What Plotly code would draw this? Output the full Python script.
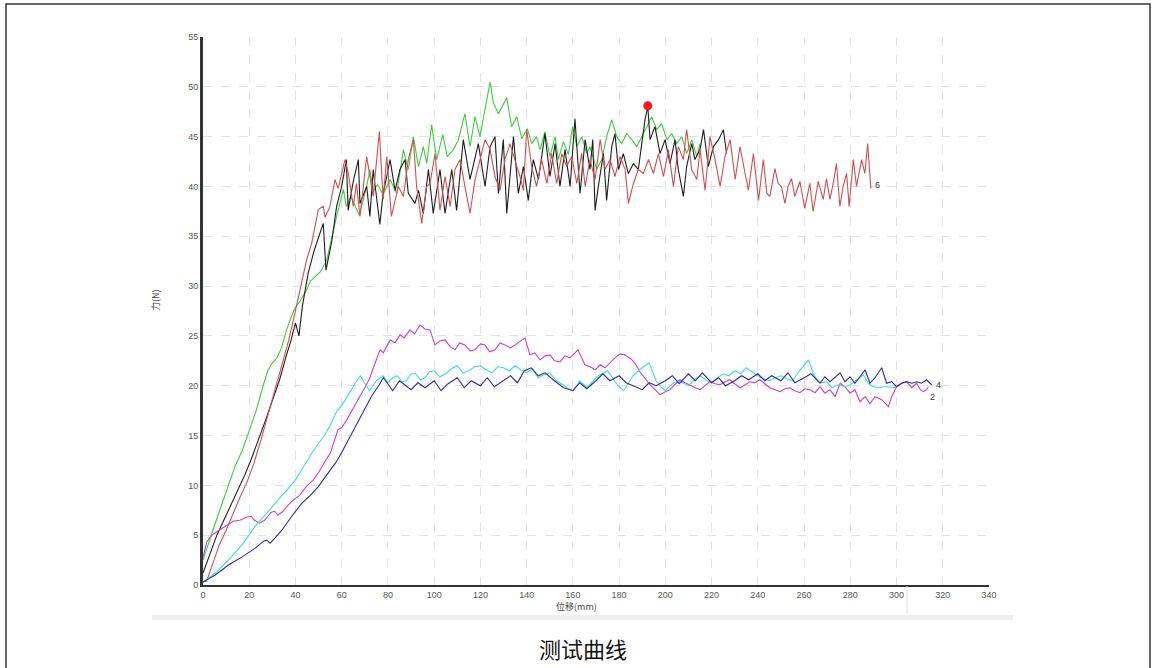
import plotly.graph_objects as go

# ---------------- data ----------------
x_ticks = list(range(0, 341, 20))
y_ticks = list(range(0, 56, 5))

green = [(0,2.5),(2,4),(5,6),(8,8),(11,10),(14,12),(17,13.5),(20,15.5),(23,17.5),(26,20),(28,21.5),(30,22.3),(32,22.8),(34,23.8),(36,25.5),(38,26.8),(39.8,27.8),(42,28.5),(44.8,29.6),(46.5,30.5),(48.4,30.9),(51,31.5),(53.5,32.6),(55.7,35),(57.8,37),(60.7,39.7),(62,38),(64,39),(65.5,38.2),(67.6,37.1),(70.8,40),(72.2,41.7),(73.6,39.5),(75.5,40.2),(77.9,39.2),(80.9,40.7),(83.8,39.3),(86.7,43.7),(88.8,41.7),(91,45),(93.2,42),(95.3,44),(96.8,42.3),(98.9,46.2),(101.1,42.7),(103.7,45.2),(105.7,43),(108.3,43.7),(110.5,44.7),(113.3,47.3),(115.5,44),(117.7,47),(119.8,45),(122,47.7),(124.2,50.5),(125.6,48.4),(127.8,47.3),(131.4,48.9),(133.5,46),(135.7,47),(137.9,44.8),(140.3,45.8),(142.2,44.3),(144.3,45),(145.8,43.7),(147.9,45.5),(150.1,43),(152.3,45),(153.7,42.7),(155.9,44.5),(158,43.2),(159.9,46),(161.7,44),(163.8,45),(166,43.3),(167.4,44),(170.3,41.7),(172.5,42.7),(174.6,45),(176.8,46.7),(179,45),(181.1,44.3),(183.3,45.3),(185.5,44.7),(187.6,44),(189.8,45),(191.9,46),(194.1,47),(196.3,45.7),(198.4,46.3),(200.6,44.7),(202.8,45.3),(204.9,44.3),(207.1,45),(209.2,43.3),(211.4,44.7),(213.6,43),(215,44.3)]

black = [(0,1.2),(3,3),(6,5),(9,6.5),(12,8),(15,9.5),(18,11),(21,12.7),(24,14.5),(27,16.5),(30,18.5),(33,20.5),(36,23),(38,24.5),(40,26.3),(41.5,25),(43,28),(45.5,31.3),(48,33.5),(50.6,35.3),(52,36.3),(53.2,31.6),(55.7,34.5),(57.8,38),(60,40),(62,42.7),(62.8,37.6),(65,40.5),(67.2,42.7),(67.9,38.3),(70.8,40),(72.2,37),(73.6,41.7),(76.5,36.2),(77.9,39.3),(79.5,41),(80.9,42.7),(83.1,39.6),(85.2,41.7),(87.4,42.7),(88.8,39.3),(91.7,38.3),(93.2,39.6),(95.3,37.3),(97.5,41.7),(99.6,37.3),(102.5,41.7),(104.7,37.3),(107.6,41.7),(109.7,37.6),(112.6,44.7),(115.5,40.7),(119.1,44.3),(122,40),(124.2,44),(126.3,45),(127.8,39.3),(129.9,44.7),(131.4,37.3),(134.3,45),(136.4,39.3),(138.6,42),(140.7,38.6),(142.9,42.7),(145.1,40.7),(147.9,45.3),(150.1,41),(152.3,44.3),(154.4,40),(156.6,43.7),(158.8,40),(160.9,46.8),(163.1,39.3),(165.3,44.7),(167.4,41.7),(168.6,44.7),(169.6,37.6),(171,40),(173.2,43.3),(174.6,38.6),(176.8,44),(178.2,45.3),(179.7,41.7),(181.8,43.3),(184,41.3),(186.2,42.3),(188.3,41.7),(189.8,44.3),(191.2,46.7),(192.4,48),(193.4,44.7),(195.5,46),(197.7,43.3),(199.9,44.7),(202,42.3),(204.2,44.7),(205.6,41.7),(207.8,39),(209.2,42),(211.4,44.3),(212.8,42.7),(215,43.7),(216.5,45.7),(218.6,42),(220.8,44),(223,44.7),(225.1,45.7),(226.5,43.3)]

red = [(0,0.3),(1.6,0.4),(4,2),(7,4),(10,5.5),(13,7.2),(16,8.8),(19,10.3),(22,12.2),(25,14.5),(28,17),(31,19.5),(34,22),(37,24.5),(39,26.5),(41.2,28.8),(43,30.5),(44.8,32.6),(47,34.3),(49.9,37.7),(52,38),(52.8,36.9),(54.9,38),(57.1,40.7),(58.5,39.8),(61.4,42.7),(62.8,41.4),(65,38),(66.4,40.3),(67.9,37),(70.8,43),(73.6,39),(76.3,45.5),(77.9,38.7),(79.5,43),(81.5,37),(84.5,40),(86.7,39),(88.8,42.7),(91,44.7),(92.4,40),(94.6,36.3),(96.8,40),(98.2,40.3),(100.4,43.3),(102.5,37.6),(104.7,41),(106.9,38),(109,41.7),(111.2,42.7),(113.3,40),(115.5,37.3),(117.7,40.7),(119.8,42.7),(122,44.7),(124.2,43.7),(126.3,41),(128.5,39.6),(130.6,42.7),(132.8,44.3),(135,42.7),(137.1,41),(138.6,39.6),(140,45.7),(142.2,42),(144.3,40),(146.5,42.7),(148.7,40.3),(150.8,43.3),(153,40.3),(155.2,43.3),(157.3,42),(159.5,43),(161.7,40.3),(163.8,43.3),(165.3,40),(167.4,42.7),(169.6,40.7),(171.8,44.7),(173.9,41.7),(176.1,42.7),(178.2,41),(180.4,43),(182.6,41.7),(184,38.3),(186.2,40.3),(188.3,41.7),(190.5,41.3),(192.7,42.7),(194.8,41.3),(197,43.3),(199.2,41),(201.3,43.7),(203.5,40),(205.6,44),(207.8,42.7),(209.2,45.7),(211.4,41.7),(213.6,40.7),(215,43.7),(217.2,39.6),(219.3,45),(221.5,42.7),(223.7,40),(225.8,43),(228,44.7),(230.2,40.7),(232.3,44),(234.5,41.3),(235.9,39.6),(238.1,43.3),(240.3,38.6),(242.4,42.7),(243.9,39.3),(245.2,39),(247.4,41.8),(248.8,40.3),(250.2,40),(251.7,38.3),(253.1,40),(254.6,40.8),(256,39),(258.2,40.5),(260.3,37.8),(262.5,40.3),(263.9,37.5),(266.1,40.5),(268.3,38.7),(269.7,40.8),(271.2,38.7),(272.6,40.3),(274,42.3),(275.5,38),(276.9,40),(278.4,41.3),(279.5,38),(281.3,42.7),(282.7,40),(284.9,42.7),(286.3,41.3),(287.5,44.3),(288.5,40.3),(288.9,39.8)]

magenta = [(0,2.8),(1.6,4.3),(3.7,5),(7.2,5.5),(10.1,5.9),(13,6.4),(15.9,6.5),(18.7,6.8),(20.9,6.9),(22.3,6.5),(24.5,6.2),(26.6,6.5),(29.5,7.3),(31,7.4),(32.4,7),(34.6,7.4),(36.7,8),(38.9,8.5),(41.8,9),(44.7,9.9),(47.6,10.5),(50,11.3),(53,12.5),(55,13.2),(58.4,15.6),(60,15.8),(62,16.5),(65.7,18.1),(68,19),(70,19.8),(72.2,20.8),(74,22),(76.6,23.6),(78,23.3),(81,24.6),(83,24.3),(85.2,25.1),(87,24.8),(89.5,25.6),(91.5,25.2),(93.9,26.1),(96,25.7),(98.2,25.6),(100.3,24.1),(102.5,24.5),(104.7,24.6),(107,23.9),(109,23.6),(111,24.3),(113.3,24.1),(115.5,23.5),(117.6,23.6),(120,24.2),(122,24.1),(124,23.4),(126.3,23.6),(128.5,24.3),(130.6,24.1),(133,23.8),(135,24.1),(137,24.4),(139.3,24.8),(141.4,23.1),(143.5,23.3),(145.8,22.6),(148,23),(150.1,23.1),(152,22.5),(154.4,22.4),(156.5,23),(158.7,22.8),(162.2,23.6),(165.2,22.1),(167.5,21.9),(169.6,21.6),(171.8,22.1),(173.9,21.8),(176,22.3),(178.2,22.8),(180.5,23.2),(182.5,23.1),(185.6,22.6),(187,22.2),(189,21.4),(191,20.8),(193.3,20.1),(195.5,19.6),(197.7,19.1),(200,19.4),(202,19.6),(204,20.1),(206.3,20.6),(208.5,20.3),(210.6,20.1),(213,19.8),(215,19.6),(217,20),(219.3,20.4),(221.5,20.2),(223.6,20.1),(226,20.4),(227.9,20.6),(230,20.2),(232.3,19.8),(234.5,20.1),(236.6,20.4),(238.8,20.3),(240.9,20.6),(243,20.2),(245.2,19.8),(247.5,19.6),(249.6,19.4),(251.8,19.7),(253.9,19.8),(256,19.5),(258.2,19.3),(260.4,19.7),(262.6,19.6),(264.8,19.3),(266.9,19.9),(269,19.25),(271.2,19.6),(273.4,18.9),(275.6,20.25),(277.7,19.9),(279.9,19.25),(282,19.6),(284.2,18.4),(286.4,18.9),(288.5,18.2),(290.7,18.9),(293.6,18.6),(296.5,17.9),(297.9,18.9),(300,19.9),(302.2,20.25),(304.4,20.4),(306.6,19.8),(308.7,20.25),(310.3,19.6),(311.6,19.4),(313,19.6),(313.8,19.9)]

cyan = [(0,0.3),(5.3,1.2),(11,2.5),(16.8,4),(22.6,5.9),(28.3,7.4),(34.1,9),(39.9,10.5),(42.5,11.5),(45,12.5),(47.5,13.4),(50,14.2),(52.5,15),(55,16),(58,17.5),(60,18),(63,19.2),(66,20.3),(68,21),(70,20.2),(72,19.5),(75,20.5),(78,21),(80,20.3),(82,20.8),(84,21),(86,20.4),(88,20.5),(90,21.2),(92,21.2),(94,20.6),(96,20.8),(98,21.4),(100,21.5),(102.5,20.9),(105,21.2),(107.5,21.7),(110,22),(112.5,21.3),(115,21.5),(117.5,21.9),(120,22),(122.5,21.6),(125,21.3),(127.5,21.9),(130,21.8),(132.5,21.5),(135,22),(137.5,21.6),(140,21.3),(142.5,21.7),(145,20.8),(147.5,21.1),(150,21.3),(152.5,20.6),(155,20.2),(157.5,19.8),(160,19.5),(163,20.5),(166,19.8),(168,20.3),(170,20.8),(172.5,21.2),(175,21.5),(178,20.5),(180,19.9),(182,19.5),(184,20.2),(186,21),(188,21.4),(190,21.8),(193,22.3),(196,20.5),(198,19.9),(200,19.5),(202.5,20.1),(205,20.5),(207.5,20.3),(210,20),(212.5,20.6),(215,21),(217.5,20.6),(220,20.3),(222.5,20.8),(225,21.2),(227.5,21),(230,21.5),(232.5,21.2),(235,21.8),(237.5,21.4),(240,21),(242.5,20.7),(245,20.5),(247.5,20.8),(250,21),(252.5,20.7),(255,20.5),(258,21.5),(260,22),(262,22.6),(264,21.2),(266,20.5),(267.5,20.3),(269.8,20.4),(272,19.8),(274.8,20.1),(277.7,19.9),(279.9,20.1),(282.8,20.6),(285.6,21.1),(287.8,20.25),(290,19.9),(292.1,19.8),(294.3,19.9),(296.5,19.9),(298.6,19.8),(300,19.9)]

blue = [(0,0.3),(5.3,1),(11,2),(16.8,2.8),(22.6,3.7),(26.2,4.4),(27.6,4.5),(29,4.2),(31.1,4.7),(34.1,5.5),(38.4,6.9),(42.7,8.2),(46.4,9),(48.5,9.5),(50,9.9),(51.5,10.4),(55,11.5),(57.5,12.3),(60,13.3),(62.5,14.4),(65,15.5),(67.5,16.7),(70,17.8),(73,19),(76,20),(78,20.8),(80,20.2),(82,19.5),(85,20.5),(88,20),(90,19.6),(93,20.3),(96,19.8),(100,20.5),(103,19.5),(106,20.2),(110,20.8),(113,19.8),(116,20.5),(120,20),(123,20.8),(126,19.9),(130,20.5),(133,21),(136,20.3),(139,21.5),(142,21.8),(145,21),(148,21.3),(152,20.5),(156,19.8),(160,19.5),(163,20.3),(166,19.7),(170,20.5),(173,21.2),(176,20.5),(180,21),(183,20.3),(186,20),(190,19.6),(193,20.3),(196,20),(200,20.5),(203,21),(206,20.2),(210,21.2),(213,20.5),(216,21.3),(220,20.3),(223,20.8),(226,20),(230,20.5),(233,21),(236,20.6),(240,21.2),(243,20.5),(246,21),(250,20.5),(253,21.3),(256,20.3),(260,20.8),(263,21.2),(266.9,20.25),(269,20.9),(271.2,20.4),(273.4,20.9),(275.6,21.3),(277.7,20.4),(279.9,20.9),(282,20.25),(284.2,20.9),(286.4,21.6),(288.5,20.25),(290.7,20.8),(293.6,21.8),(295.7,20.25),(297.9,20.4),(300,19.9),(302.2,20.25),(304.4,20.4),(306.6,20.25),(308.7,20.4),(310.9,20.25),(313,20.6),(314.5,20.25),(315.2,20.1)]

peak_point = (192.4, 48.1)
curve_labels = [("6", 291.8, 40.1), ("4", 318.0, 20.1), ("2", 315.6, 18.9)]

series = [
    (green, "#3fcc3f"),
    (black, "#1e1e1e"),
    (red, "#d05050"),
    (magenta, "#cc3fcc"),
    (cyan, "#3fdcdc"),
    (blue, "#2c2ca8"),
]

# ---------------- figure ----------------
W, H = 1155, 668
fig = go.Figure()
for pts, col in series:
    fig.add_trace(go.Scatter(
        x=[p[0] for p in pts], y=[p[1] for p in pts], mode="lines",
        line=dict(color=col, width=1.1), hoverinfo="skip", showlegend=False))

fig.add_trace(go.Scatter(x=[peak_point[0]], y=[peak_point[1]], mode="markers",
                         marker=dict(color="#ff1a1a", size=9), hoverinfo="skip",
                         showlegend=False))

for txt, lx, ly in curve_labels:
    fig.add_annotation(x=lx, y=ly, text=txt, showarrow=False, xref="x", yref="y",
                       font=dict(size=9, color="#333", family="Liberation Sans"))

x0, x1 = 203, 989
y0, y1 = 37, 585
tickfont = dict(size=9, color="#555", family="Liberation Sans")
fig.update_layout(
    width=W, height=H, margin=dict(l=0, r=0, t=0, b=0, autoexpand=False),
    paper_bgcolor="white", plot_bgcolor="white",
    xaxis=dict(domain=[x0 / W, x1 / W], range=[0, 340], tickvals=x_ticks,
               showgrid=True, gridcolor="#e3e3e3", griddash="dash", gridwidth=1,
               showline=True, linecolor="#333", linewidth=2, zeroline=False,
               ticks="", tickfont=tickfont, automargin=False),
    yaxis=dict(domain=[1 - y1 / H, 1 - y0 / H], range=[0, 55], tickvals=y_ticks,
               showgrid=True, gridcolor="#e3e3e3", griddash="dash", gridwidth=1,
               showline=True, linecolor="#333", linewidth=3, zeroline=False,
               ticks="", tickfont=tickfont, automargin=False),
    font=dict(family="Noto Sans CJK SC"),
)

# axis titles
fig.add_annotation(x=155 / W, y=1 - 300 / H, xref="paper", yref="paper", text="力(N)",
                   textangle=-90, showarrow=False, xanchor="center", yanchor="middle",
                   font=dict(size=9, color="#444", family="Noto Sans CJK SC"))
fig.add_annotation(x=576 / W, y=1 - 606 / H, xref="paper", yref="paper", text="位移(mm)",
                   showarrow=False, xanchor="center", yanchor="middle",
                   font=dict(size=9, color="#444", family="Noto Sans CJK SC"))
# caption
fig.add_annotation(x=583 / W, y=1 - 648 / H, xref="paper", yref="paper", text="测试曲线",
                   showarrow=False, xanchor="center", yanchor="middle",
                   font=dict(size=22, color="#111", family="Noto Sans CJK SC"))

# decorations: outer frame, gray band, small separator
fig.add_shape(type="rect", xref="paper", yref="paper", x0=6 / W, x1=1150 / W,
              y0=-0.05, y1=1 - 4 / H, line=dict(color="#333", width=1.5))
fig.add_shape(type="rect", xref="paper", yref="paper", x0=152 / W, x1=1013 / W,
              y0=1 - 620 / H, y1=1 - 615 / H, line=dict(width=0), fillcolor="#eeeeee")
fig.add_shape(type="line", xref="paper", yref="paper", x0=907 / W, x1=907 / W,
              y0=1 - 615 / H, y1=1 - 586 / H, line=dict(color="#e0e0e0", width=1))

fig.write_html("out.html", config={"displayModeBar": False},
               post_script="document.body.style.margin='0';document.body.style.padding='0';")
